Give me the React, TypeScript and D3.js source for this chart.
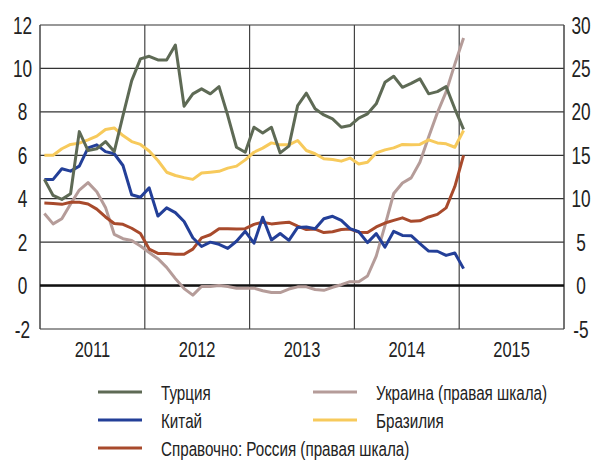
import * as d3 from "d3";

// Monthly values, Jan 2011 .. Jan 2015
const turkey = [
  4.89, 4.15, 3.97, 4.23, 7.09, 6.22, 6.3, 6.63, 6.17, 7.83, 9.44, 10.44,
  10.56, 10.39, 10.39, 11.08, 8.26, 8.83, 9.06, 8.83, 9.16, 7.83, 6.37, 6.14,
  7.29, 7.03, 7.29, 6.11, 6.42, 8.29, 8.86, 8.14, 7.86, 7.68, 7.29, 7.37,
  7.71, 7.91, 8.37, 9.36, 9.64, 9.13, 9.31, 9.52, 8.83, 8.93, 9.16, 8.14,
  7.19,
];
const china = [
  4.89, 4.89, 5.38, 5.27, 5.5, 6.34, 6.48, 6.17, 6.07, 5.53, 4.18, 4.07,
  4.5, 3.2, 3.58, 3.36, 2.95, 2.2, 1.8, 2.0, 1.9, 1.71, 2.04, 2.5,
  1.95, 3.15, 2.1, 2.4, 2.08, 2.68, 2.7, 2.62, 3.08, 3.19, 3.0, 2.62,
  2.48, 1.98, 2.39, 1.77, 2.5, 2.31, 2.3, 1.93, 1.59, 1.58, 1.39, 1.5,
  0.78,
];
const brazil = [
  6.0, 6.0, 6.3, 6.5, 6.56, 6.71, 6.88, 7.19, 7.26, 6.91, 6.63, 6.5,
  6.2, 5.76, 5.22, 5.07, 4.97, 4.89, 5.18, 5.22, 5.26, 5.41, 5.5, 5.79,
  6.14, 6.33, 6.57, 6.48, 6.48, 6.68, 6.22, 6.07, 5.84, 5.81, 5.73, 5.87,
  5.6, 5.68, 6.11, 6.25, 6.34, 6.5, 6.48, 6.5, 6.71, 6.57, 6.53, 6.37,
  7.14,
];
// right scale
const ukraine = [
  8.3, 7.1, 7.7, 9.4, 11.0, 11.85, 10.8, 9.0, 5.9, 5.4, 5.2, 4.55,
  3.8, 3.1, 2.1, 0.8, -0.35, -1.1, -0.1, -0.1, 0.0, -0.1, -0.3, -0.3,
  -0.3, -0.6, -0.8, -0.8, -0.4, -0.15, -0.15, -0.45, -0.55, -0.2, 0.1, 0.45,
  0.45, 1.1, 3.4, 6.9, 10.6, 11.8, 12.4, 14.2, 17.1, 19.9, 22.3, 25.5,
  28.5,
];
const russia = [
  9.5, 9.45, 9.35, 9.6, 9.6, 9.4, 8.8, 7.9, 7.15, 7.05, 6.6, 6.0,
  4.2, 3.7, 3.7, 3.6, 3.6, 4.2, 5.5, 5.85, 6.55, 6.55, 6.5, 6.55,
  7.05, 7.3, 7.1, 7.2, 7.3, 6.85, 6.45, 6.5, 6.1, 6.2, 6.45, 6.5,
  6.15, 6.1, 6.75, 7.2, 7.5, 7.8, 7.4, 7.45, 7.9, 8.2, 8.95, 11.4,
  15.0,
];

const years = ["2011", "2012", "2013", "2014", "2015"];
const leftTicks = [12, 10, 8, 6, 4, 2, 0, -2];
const rightTicks = [30, 25, 20, 15, 10, 5, 0, -5];

const series = [
  { name: "Турция", values: turkey, axis: "left", color: "#5e6a55" },
  { name: "Китай", values: china, axis: "left", color: "#233f98" },
  { name: "Справочно: Россия (правая шкала)", values: russia, axis: "right", color: "#a84a2c" },
  { name: "Украина (правая шкала)", values: ukraine, axis: "right", color: "#b59c99" },
  { name: "Бразилия", values: brazil, axis: "left", color: "#f7ca5c" },
];
const drawOrder = [3, 2, 4, 1, 0];
const legendSlots = [
  [0, 0],
  [0, 1],
  [0, 2],
  [1, 0],
  [1, 1],
];

const W = 597;
const H = 462;
const left = 40;
const right = 564;
const top = 25;
const bottom = 329;

const font = "'Liberation Sans', Arial, sans-serif";

// narrow-looking text: squeeze horizontally
function NText(props: { x: number; y: number; size: number; anchor?: string; sx?: number; children: any }) {
  const sx = props.sx ?? 0.75;
  return (
    <g transform={`translate(${props.x},${props.y}) scale(${sx},1)`}>
      <text x={0} y={0} textAnchor={props.anchor ?? "start"} fontSize={props.size} fill="#222">
        {props.children}
      </text>
    </g>
  );
}

export default function App() {
  const x = d3.scaleLinear().domain([0, years.length * 12]).range([left, right]);
  const yL = d3.scaleLinear().domain([-2, 12]).range([bottom, top]);
  const yR = d3.scaleLinear().domain([-5, 30]).range([bottom, top]);

  const mkLine = (axis: string) =>
    d3
      .line<number>()
      .x((_, i) => x(i + 0.5))
      .y((d) => (axis === "left" ? yL(d) : yR(d)));

  return (
    <svg
      width={W}
      height={H}
      style={{ position: "absolute", left: 0, top: 0, background: "#fff" }}
      fontFamily={font}
    >
      {/* horizontal grid */}
      {leftTicks.map((t) => (
        <line
          key={"h" + t}
          x1={left}
          x2={right}
          y1={yL(t)}
          y2={yL(t)}
          stroke="#333"
          strokeWidth={1.2}
        />
      ))}
      {/* year separators */}
      {years.slice(1).map((_, i) => (
        <line
          key={"v" + i}
          x1={x((i + 1) * 12)}
          x2={x((i + 1) * 12)}
          y1={top}
          y2={bottom}
          stroke="#444"
          strokeWidth={1.2}
        />
      ))}
      <line x1={left} x2={left} y1={top} y2={bottom} stroke="#444" strokeWidth={1.5} />
      <line x1={right} x2={right} y1={top} y2={bottom} stroke="#444" strokeWidth={1.5} />
      <line x1={left} x2={right} y1={yL(0)} y2={yL(0)} stroke="#111" strokeWidth={2.5} />

      {drawOrder.map((k) => {
        const s = series[k];
        return (
          <path
            key={s.name}
            d={mkLine(s.axis)(s.values) || ""}
            fill="none"
            stroke={s.color}
            strokeWidth={3}
            strokeLinejoin="round"
          />
        );
      })}

      {leftTicks.map((t) => (
        <NText key={"l" + t} x={22.5} y={yL(t) + 8.5} size={23} anchor="middle">
          {t}
        </NText>
      ))}
      {rightTicks.map((t) => (
        <NText key={"r" + t} x={581} y={yR(t) + 8.5} size={23} anchor="middle">
          {t}
        </NText>
      ))}
      {years.map((yr, i) => (
        <NText key={yr} x={x(i * 12 + 6)} y={357} size={22} anchor="middle">
          {yr}
        </NText>
      ))}

      {series.map((s, k) => {
        const [col, row] = legendSlots[k];
        const lx = col === 0 ? 98 : 313;
        const ly = 392 + row * 28;
        return (
          <g key={"lg" + s.name}>
            <line x1={lx} x2={lx + 44} y1={ly} y2={ly} stroke={s.color} strokeWidth={3} />
            <NText x={lx + 63} y={ly + 7.5} size={19.5} sx={0.78}>
              {s.name}
            </NText>
          </g>
        );
      })}
    </svg>
  );
}
